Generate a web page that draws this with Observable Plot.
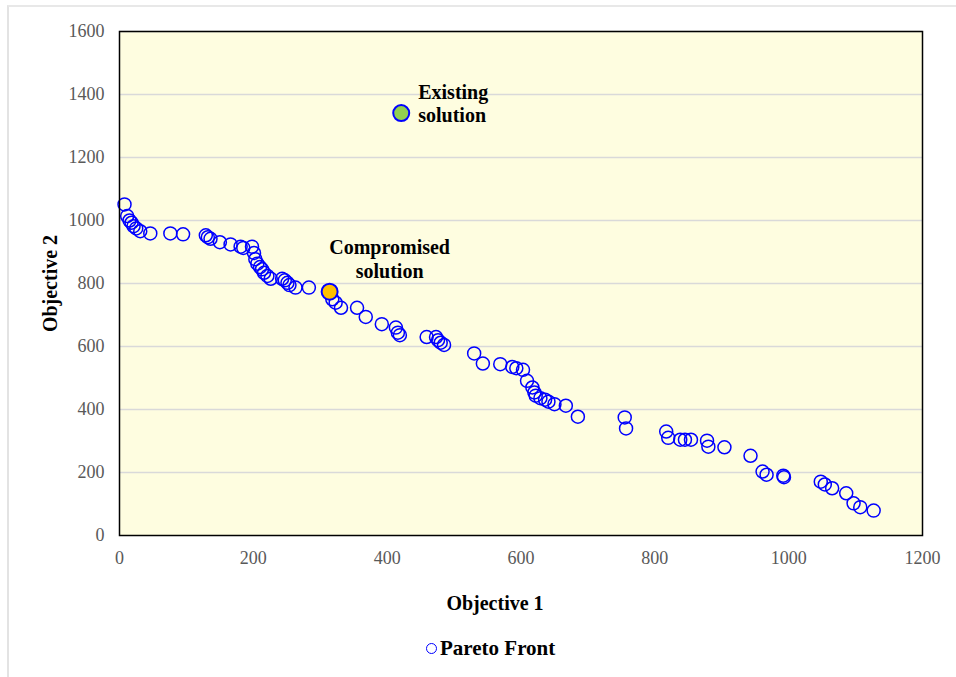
<!DOCTYPE html>
<html>
<head>
<meta charset="utf-8">
<script src="https://cdn.jsdelivr.net/npm/d3@7"></script>
<script src="https://cdn.jsdelivr.net/npm/@observablehq/plot@0.6"></script>
<style>
  html, body { margin: 0; padding: 0; background: #ffffff; }
  #wrap { position: relative; width: 956px; height: 677px; overflow: hidden;
          font-family: "Liberation Serif", "Times New Roman", serif; }
  #border { position: absolute; left: 7px; top: 5px; width: 960px; height: 700px;
            border-top: 2px solid #e8e8e8; border-left: 2px solid #e3e3e3; }
  #chart { position: absolute; left: 0; top: 0; }
  #legend { position: absolute; left: 426px; top: 636px; font-size: 21px; font-weight: bold;
            color: #000; display: flex; align-items: center; white-space: nowrap; line-height: 24px; }
  #legend .sym { width: 11px; height: 11px; border: 1.7px solid #0000ff; border-radius: 50%;
                 margin-right: 3px; box-sizing: border-box; }
</style>
</head>
<body>
<div id="wrap">
  <div id="border"></div>
  <div id="chart"></div>
  <div id="legend"><span class="sym"></span><span>Pareto Front</span></div>
</div>
<script>
// Pareto front (Objective 1, Objective 2)
const obj1 = [7.5, 11.5, 15, 18, 21, 25, 31, 46, 76, 95,
  129, 132, 136, 150, 166, 181, 185, 198, 201, 203,
  206, 210, 213, 216, 221, 226, 243, 247, 251, 254,
  263, 283, 318, 323, 331, 355, 368, 392, 413, 416,
  419, 459, 473, 476, 480, 485, 530, 543, 569, 587,
  593, 603, 609, 617, 620, 622, 629, 636, 641, 650,
  667, 685, 755, 757, 817, 820, 838, 845, 854, 878,
  880, 904, 943, 961, 967, 992, 993, 1048, 1054, 1065,
  1086, 1097, 1107, 1127];
const obj2 = [1051, 1014, 1000, 993, 982, 975, 966, 959, 959, 956,
  953, 947, 942, 931, 924, 917, 913, 917, 897, 877,
  863, 852, 845, 834, 824, 815, 815, 810, 802, 795,
  787, 787, 750, 739, 723, 723, 694, 671, 660, 644,
  636, 630, 630, 620, 612, 605, 578, 546, 544, 535,
  531, 526, 491, 470, 454, 444, 436, 431, 425, 417,
  412, 377, 375, 340, 330, 310, 304, 304, 304, 301,
  282, 280, 253, 203, 193, 190, 185, 171, 162, 150,
  134, 102, 90, 79];

// Highlighted solutions
const specialNames = ["Existing\nsolution", "Compromised\nsolution"];
const specialObj1 = [421, 314];
const specialObj2 = [1341, 774];
const specialFill = ["#92d050", "#ffc000"];

const xTicks = [0, 200, 400, 600, 800, 1000, 1200];
const yTicks = [0, 200, 400, 600, 800, 1000, 1200, 1400, 1600];

const pareto = obj1.map((x, i) => ({x, y: obj2[i]}));
const special = specialNames.map((name, i) => ({name, x: specialObj1[i], y: specialObj2[i], fill: specialFill[i]}));

const plot = Plot.plot({
  width: 956,
  height: 625,
  marginLeft: 119,
  marginRight: 34,
  marginTop: 31,
  marginBottom: 90,
  style: {fontFamily: '"Liberation Serif", "Times New Roman", serif', fontSize: "18px", background: "transparent", overflow: "visible"},
  x: {domain: [0, 1200]},
  y: {domain: [0, 1600]},
  marks: [
    Plot.frame({fill: "#fefde0", stroke: null}),
    Plot.gridY(yTicks.slice(1), {stroke: "#d9d9d9", strokeOpacity: 1, strokeWidth: 1.5}),
    Plot.axisX(xTicks, {tickSize: 0, tickPadding: 16, fill: "#595959", fontSize: 18, tickFormat: d => String(d),
      label: "Objective 1", labelAnchor: "center", labelArrow: "none", labelOffset: 74}),
    Plot.axisY(yTicks, {tickSize: 0, tickPadding: 15, fill: "#595959", fontSize: 18, tickFormat: d => String(d),
      label: "Objective 2", labelAnchor: "center", labelArrow: "none", labelOffset: 77}),
    Plot.dot(pareto, {x: "x", y: "y", r: 6.5, stroke: "#0000ff", strokeWidth: 1.5, fill: "none"}),
    Plot.dot(special, {x: "x", y: "y", r: 8, stroke: "#0000ff", strokeWidth: 2, fill: "fill"}),
    Plot.text(special.slice(0, 1), {x: "x", y: "y", text: "name", dx: 17, dy: -10, textAnchor: "start",
      fontWeight: "bold", fontSize: 20, lineHeight: 1.18, fill: "#000"}),
    Plot.text(special.slice(1), {x: "x", y: "y", text: "name", dx: 60, dy: -33, textAnchor: "middle",
      fontWeight: "bold", fontSize: 20, lineHeight: 1.2, fill: "#000"}),
    Plot.frame({stroke: "#000", strokeWidth: 1.5})
  ]
});
document.getElementById("chart").appendChild(plot);
// axis titles: bold, black, larger
plot.querySelectorAll("g[aria-label='x-axis label'] text, g[aria-label='y-axis label'] text").forEach(t => {
  t.setAttribute("font-weight", "bold");
  t.setAttribute("fill", "#000");
  t.setAttribute("font-size", "20");
});
const xl = plot.querySelector("g[aria-label='x-axis label']");
if (xl) xl.setAttribute("transform", (xl.getAttribute("transform") || "") + " translate(-26,0)");
</script>
</body>
</html>
